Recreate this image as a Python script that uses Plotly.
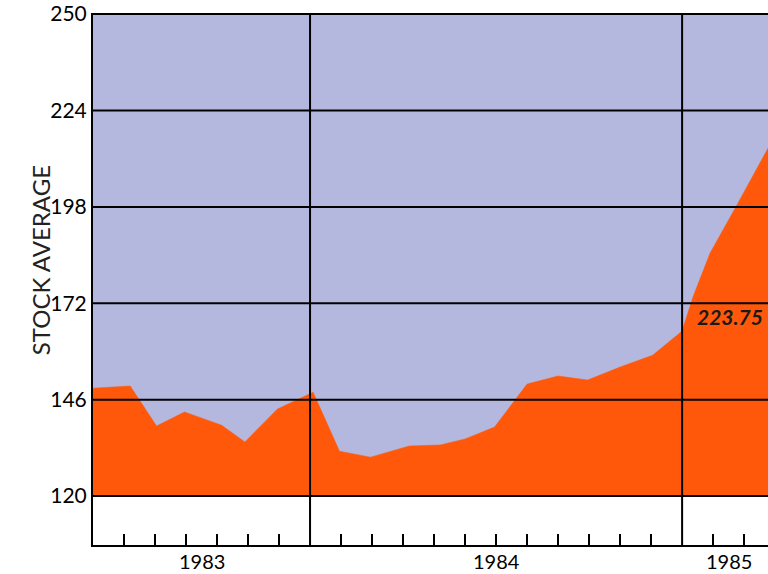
import plotly.graph_objects as go

# months counted from June 1983 (0) ; 7 = Jan 1984, 19 = Jan 1985
months = [0, 1.2, 2.05, 2.95, 4.15, 4.9, 5.95, 7.1, 7.95, 8.95, 10.2, 11.2,
          12.0, 12.95, 14.0, 15.0, 15.95, 17.0, 18.05, 19.0, 19.35, 19.9, 20.8, 21.8]
averages = [149.1, 149.7, 138.9, 142.7, 139.1, 134.6, 143.5, 148.0, 132.1, 130.5, 133.5, 133.8,
            135.4, 138.6, 150.2, 152.4, 151.3, 154.8, 158.0, 164.5, 173.7, 185.5, 199.0, 214.3]

y_ticks = [120, 146, 172, 198, 224, 250]
month_ticks = [1, 2, 3, 4, 5, 6, 8, 9, 10, 11, 12, 13, 14, 15, 16, 17, 18, 20, 21]
year_bounds = [7, 19]
years = ["1983", "1984", "1985"]
year_centers = [3.5, 13, 20.5]
last_label = "223.75"

BASE = 120
ORANGE = "#FF580A"
LAVENDER = "#B4B8DE"
FONT = "Lato"

fig = go.Figure()

# baseline so the area only fills down to 120
fig.add_trace(go.Scatter(x=months, y=[BASE] * len(months), mode="lines",
                         line=dict(width=0), hoverinfo="skip", showlegend=False))
fig.add_trace(go.Scatter(x=months, y=averages, mode="lines", fill="tonexty",
                         fillcolor=ORANGE, line=dict(color=ORANGE, width=0.5),
                         showlegend=False))

# lavender chart field above 120
fig.add_shape(type="rect", xref="paper", x0=0, x1=1, yref="y", y0=BASE, y1=250,
              fillcolor=LAVENDER, line=dict(width=0), layer="below")

for v in y_ticks:
    fig.add_shape(type="line", xref="paper", x0=0, x1=1, yref="y", y0=v, y1=v,
                  line=dict(color="black", width=2), layer="above")

for b in year_bounds:
    fig.add_shape(type="line", xref="x", x0=b, x1=b, yref="paper", y0=0, y1=1,
                  line=dict(color="black", width=2), layer="above")

for yr, c in zip(years, year_centers):
    fig.add_annotation(x=c, xref="x", y=-0.0545, yref="paper", text=yr, showarrow=False,
                       font=dict(family=FONT, size=20, color="black"),
                       yanchor="bottom", borderpad=0)

fig.add_annotation(x=-0.101, xref="paper", y=0.536, yref="paper", text="STOCK AVERAGE",
                   textangle=-90, showarrow=False,
                   font=dict(family=FONT, size=24, color="#222"))

fig.add_annotation(x=19.45, xref="x", y=168.5, yref="y", text=f"<b><i>{last_label}</i></b>",
                   showarrow=False, xanchor="left", borderpad=0,
                   font=dict(family=FONT, size=21, color="#1a1a1a"))

fig.update_xaxes(range=[0, 21.77], showgrid=False, zeroline=False,
                 showline=True, linecolor="black", linewidth=2,
                 tickvals=month_ticks, ticks="inside", ticklen=11, tickwidth=2,
                 tickcolor="black", showticklabels=False)
fig.update_yaxes(range=[106.8, 250.3], showgrid=False, zeroline=False,
                 showline=True, linecolor="black", linewidth=2,
                 tickvals=y_ticks, ticks="",
                 tickfont=dict(family=FONT, size=21, color="black"))

fig.update_layout(width=768, height=574, margin=dict(l=93, r=0, t=13, b=29),
                  plot_bgcolor="white", paper_bgcolor="white")

fig.write_html("out.html", config={"displayModeBar": False},
               post_script="document.body.style.margin='0';")
